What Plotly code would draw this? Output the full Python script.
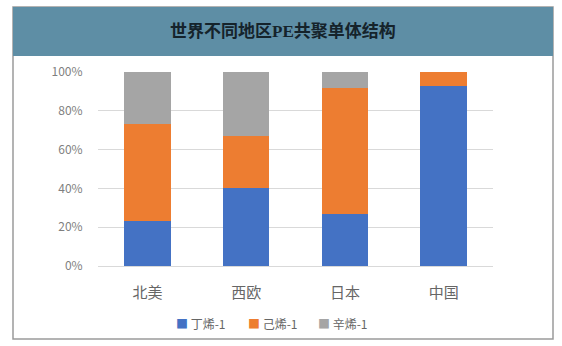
import plotly.graph_objects as go

W, H = 562, 346

regions = ["北美", "西欧", "日本", "中国"]
series_names = ["丁烯-1", "己烯-1", "辛烯-1"]
butene = [23, 40, 27, 93]
hexene = [50, 27, 65, 7]
octene = [27, 33, 8, 0]
colors = ["#4472C4", "#ED7D31", "#A5A5A5"]
y_ticks = [0, 20, 40, 60, 80, 100]
title = "世界不同地区PE共聚单体结构"

cjk = "Noto Sans CJK SC"


def px_x(x):
    return x / W


def px_y(y):
    return 1 - y / H


fig = go.Figure()
for name, vals, col in zip(series_names, [butene, hexene, octene], colors):
    fig.add_trace(go.Bar(
        x=regions, y=vals, name=name, marker=dict(color=col, line=dict(width=0)),
        showlegend=False,
    ))

# compact legend row: small coloured square followed by the series name
legend_x = [179, 251, 321]
legend_notes = []
for name, col, lx in zip(series_names, colors, legend_x):
    legend_notes.append(dict(
        text=f'<span style="color:{col}">■</span> {name}',
        xref="paper", yref="paper", x=px_x(lx - 5), y=px_y(323),
        xanchor="left", yanchor="middle", showarrow=False,
        font=dict(family=cjk, size=12, color="#666666"),
    ))

fig.update_layout(
    width=W, height=H,
    margin=dict(l=0, r=0, t=0, b=0),
    paper_bgcolor="white", plot_bgcolor="white",
    barmode="stack", bargap=0.53,
    showlegend=False,
    xaxis=dict(
        domain=[px_x(98), px_x(493)],
        tickfont=dict(family=cjk, size=15, color="#666666"),
        ticks="outside", ticklen=13, tickcolor="rgba(0,0,0,0)",
        showline=False, showgrid=False, fixedrange=True, automargin=False,
    ),
    yaxis=dict(
        domain=[px_y(266), px_y(72)],
        range=[0, 100],
        tickvals=y_ticks, ticktext=[f"{v}%" for v in y_ticks],
        tickfont=dict(family=cjk, size=12, color="#7f7f7f"),
        ticks="outside", ticklen=12, tickcolor="rgba(0,0,0,0)",
        showgrid=True, gridcolor="#d9d9d9", gridwidth=1,
        zeroline=True, zerolinecolor="#d9d9d9", zerolinewidth=1,
        showline=False, fixedrange=True, automargin=False,
    ),
    shapes=[
        # outer frame
        dict(type="rect", xref="paper", yref="paper",
             x0=px_x(13), x1=px_x(553), y0=px_y(339), y1=px_y(7),
             line=dict(color="#9a9a9a", width=1.5), fillcolor="rgba(0,0,0,0)",
             layer="below"),
        # title band
        dict(type="rect", xref="paper", yref="paper",
             x0=px_x(13), x1=px_x(553), y0=px_y(56), y1=px_y(7),
             line=dict(width=0), fillcolor="#5E8EA5", layer="below"),
    ],
    annotations=[
        dict(text=f"<b>{title}</b>", xref="paper", yref="paper",
             x=px_x(283), y=px_y(31), xanchor="center", yanchor="middle",
             showarrow=False,
             font=dict(family="Liberation Serif, Noto Sans CJK SC", size=17, color="#15232b")),
    ] + legend_notes,
)

fig.write_html("out.html")
